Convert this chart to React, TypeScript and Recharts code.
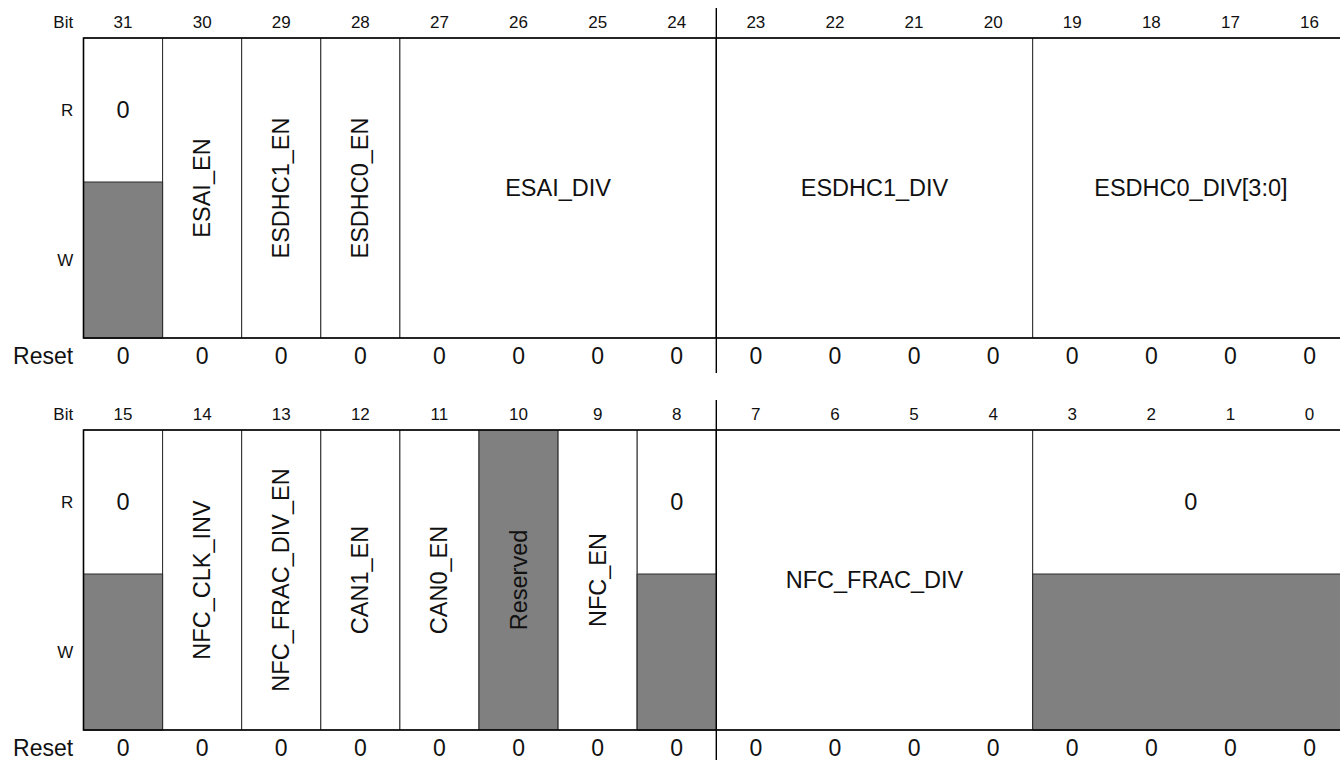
import { ScatterChart, Scatter, XAxis, YAxis, ReferenceArea, ReferenceLine } from "recharts";

const FONT = '"Liberation Sans", Arial, Helvetica, sans-serif';
const GRAY = "#808080";
const INK = "#111";

// layout
const WIDTH = 1340;
const HEIGHT = 392;
const COL = 79.1;
const LEFT = 83.5;
// y units: box bottom = 0, box top = 1
const RW_SPLIT = 0.52;
const BIT_Y = 1.053;
const RESET_Y = -0.06;
const R_Y = (1 + RW_SPLIT) / 2;
const W_Y = RW_SPLIT / 2;

type Access = "rw" | "r0" | "rsvd";
type Field = { name: string; msb: number; lsb: number; access: Access };

const topBits = [31, 30, 29, 28, 27, 26, 25, 24, 23, 22, 21, 20, 19, 18, 17, 16];
const topFields: Field[] = [
  { name: "0", msb: 31, lsb: 31, access: "r0" },
  { name: "ESAI_EN", msb: 30, lsb: 30, access: "rw" },
  { name: "ESDHC1_EN", msb: 29, lsb: 29, access: "rw" },
  { name: "ESDHC0_EN", msb: 28, lsb: 28, access: "rw" },
  { name: "ESAI_DIV", msb: 27, lsb: 24, access: "rw" },
  { name: "ESDHC1_DIV", msb: 23, lsb: 20, access: "rw" },
  { name: "ESDHC0_DIV[3:0]", msb: 19, lsb: 16, access: "rw" },
];
const topReset = [0, 0, 0, 0, 0, 0, 0, 0, 0, 0, 0, 0, 0, 0, 0, 0];

const bottomBits = [15, 14, 13, 12, 11, 10, 9, 8, 7, 6, 5, 4, 3, 2, 1, 0];
const bottomFields: Field[] = [
  { name: "0", msb: 15, lsb: 15, access: "r0" },
  { name: "NFC_CLK_INV", msb: 14, lsb: 14, access: "rw" },
  { name: "NFC_FRAC_DIV_EN", msb: 13, lsb: 13, access: "rw" },
  { name: "CAN1_EN", msb: 12, lsb: 12, access: "rw" },
  { name: "CAN0_EN", msb: 11, lsb: 11, access: "rw" },
  { name: "Reserved", msb: 10, lsb: 10, access: "rsvd" },
  { name: "NFC_EN", msb: 9, lsb: 9, access: "rw" },
  { name: "0", msb: 8, lsb: 8, access: "r0" },
  { name: "NFC_FRAC_DIV", msb: 7, lsb: 4, access: "rw" },
  { name: "0", msb: 3, lsb: 0, access: "r0" },
];
const bottomReset = [0, 0, 0, 0, 0, 0, 0, 0, 0, 0, 0, 0, 0, 0, 0, 0];

const rowLabels = [
  { text: "Bit", y: BIT_Y, size: 17 },
  { text: "R", y: R_Y, size: 17 },
  { text: "W", y: W_Y, size: 17 },
  { text: "Reset", y: RESET_Y, size: 23 },
];

function TextMark(props: any) {
  const { cx, cy, payload } = props;
  if (cx == null || cy == null) return null;
  return (
    <text
      x={cx}
      y={cy}
      transform={payload.vertical ? `rotate(-90 ${cx} ${cy})` : undefined}
      textAnchor={payload.anchor || "middle"}
      dominantBaseline="central"
      fontSize={payload.size}
      fontFamily={FONT}
      fill={INK}
    >
      {payload.text}
    </text>
  );
}

function Register({ bits, fields, reset }: { bits: number[]; fields: Field[]; reset: number[] }) {
  const top = bits[0];
  const n = bits.length;
  const colOf = (bit: number) => top - bit;

  const labels: any[] = [];
  bits.forEach((b, i) => labels.push({ x: i + 0.5, y: BIT_Y, text: String(b), size: 17 }));
  reset.forEach((v, i) => labels.push({ x: i + 0.5, y: RESET_Y, text: String(v), size: 23 }));
  rowLabels.forEach((r) => labels.push({ x: -0.13, y: r.y, text: r.text, size: r.size, anchor: "end" }));
  fields.forEach((f) => {
    const x = (colOf(f.msb) + colOf(f.lsb) + 1) / 2;
    if (f.access === "r0") labels.push({ x, y: R_Y, text: f.name, size: 23.5 });
    else labels.push({ x, y: 0.5, text: f.name, size: 23.5, vertical: f.msb === f.lsb });
  });

  return (
    <ScatterChart width={WIDTH} height={HEIGHT} margin={{ top: 0, right: 0, bottom: 0, left: 0 }}>
      <XAxis type="number" dataKey="x" hide domain={[-LEFT / COL, (WIDTH - LEFT) / COL]} allowDataOverflow />
      <YAxis type="number" dataKey="y" hide domain={[-0.18, 1 + 38 / 300]} allowDataOverflow />
      {fields.map((f, i) => (
        <ReferenceArea
          key={`f-${i}`}
          x1={colOf(f.msb)}
          x2={colOf(f.lsb) + 1}
          y1={0}
          y2={1}
          fill={f.access === "rsvd" ? GRAY : "#fff"}
          fillOpacity={1}
          stroke="#2a2a2a"
          strokeWidth={1}
          ifOverflow="visible"
        />
      ))}
      {fields
        .filter((f) => f.access === "r0")
        .map((f, i) => (
          <ReferenceArea
            key={`g-${i}`}
            x1={colOf(f.msb)}
            x2={colOf(f.lsb) + 1}
            y1={0}
            y2={RW_SPLIT}
            fill={GRAY}
            fillOpacity={1}
            stroke="#2a2a2a"
            strokeWidth={1}
            ifOverflow="visible"
          />
        ))}
      <ReferenceArea x1={0} x2={n} y1={0} y2={1} fill="none" stroke="#000" strokeWidth={1.6} ifOverflow="visible" />
      <ReferenceLine
        segment={[{ x: n / 2, y: 1.1 }, { x: n / 2, y: -0.117 }]}
        stroke="#000"
        strokeWidth={1.4}
        ifOverflow="visible"
      />
      <Scatter data={labels} shape={(p: any) => <TextMark {...p} />} isAnimationActive={false} />
    </ScatterChart>
  );
}

export default function App() {
  return (
    <div
      style={{
        position: "absolute",
        left: 0,
        top: 0,
        width: WIDTH,
        height: 760,
        overflow: "hidden",
        background: "#fff",
      }}
    >
      <Register bits={topBits} fields={topFields} reset={topReset} />
      <Register bits={bottomBits} fields={bottomFields} reset={bottomReset} />
    </div>
  );
}
